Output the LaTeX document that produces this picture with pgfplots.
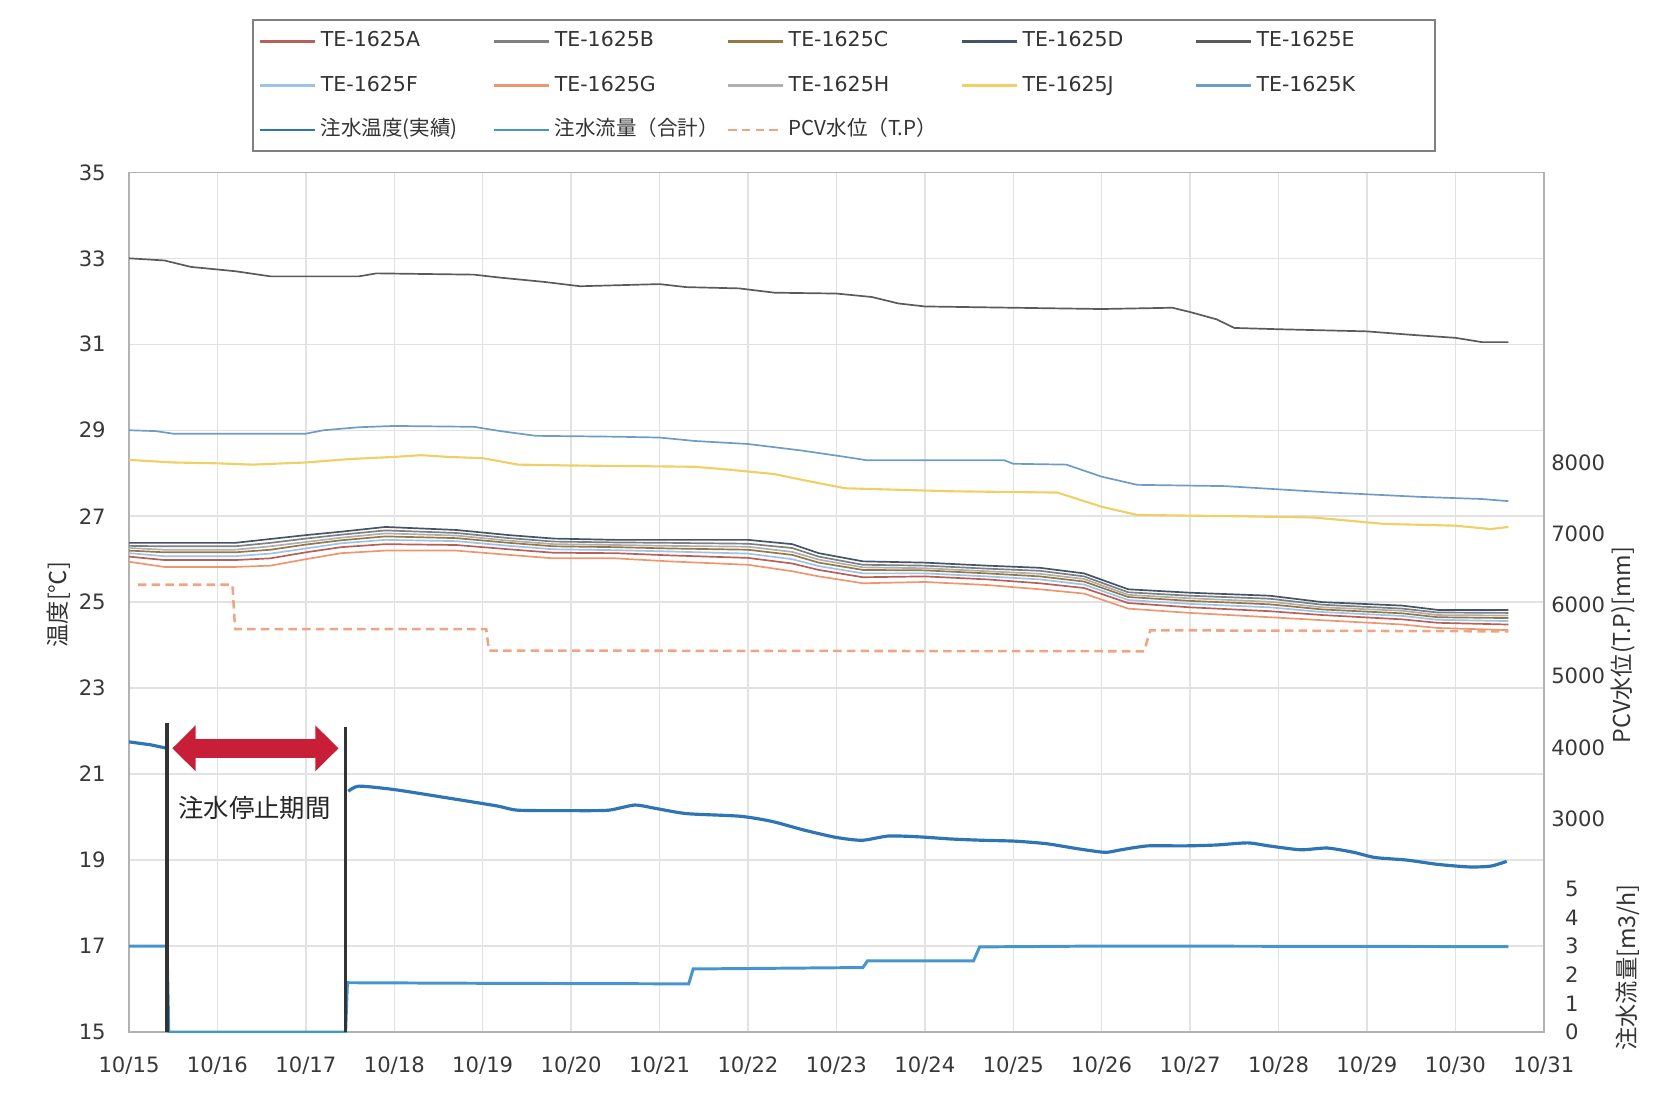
\documentclass[border=0pt]{standalone}
\usepackage{fontspec}
\setmainfont{DejaVu Sans}
\newfontfamily\jp{Noto Sans CJK JP}
\usepackage{pgfplots}
\pgfplotsset{compat=1.18}
\usepackage{pgfplotstable}
\usetikzlibrary{arrows.meta}

\definecolor{cA}{RGB}{185,95,85}
\definecolor{cB}{RGB}{128,128,128}
\definecolor{cC}{RGB}{150,120,70}
\definecolor{cD}{RGB}{68,84,106}
\definecolor{cE}{RGB}{90,90,90}
\definecolor{cF}{RGB}{157,195,230}
\definecolor{cG}{RGB}{240,150,110}
\definecolor{cH}{RGB}{175,175,175}
\definecolor{cJ}{RGB}{240,208,100}
\definecolor{cK}{RGB}{110,155,200}
\definecolor{cT}{RGB}{46,117,182}
\definecolor{cQ}{RGB}{70,150,205}
\definecolor{cP}{RGB}{240,165,130}
\definecolor{gridc}{RGB}{226,226,226}
\definecolor{arrowred}{RGB}{200,30,55}

\pgfplotstableread{
x A B C D F G H
0 26.06 26.31 26.20 26.38 26.14 25.94 26.26
0.4 25.98 26.30 26.16 26.38 26.07 25.82 26.22
1.2 25.98 26.30 26.16 26.38 26.07 25.82 26.22
1.6 26.02 26.38 26.22 26.47 26.13 25.85 26.30
2.0 26.16 26.48 26.34 26.56 26.25 26.00 26.40
2.4 26.28 26.57 26.44 26.64 26.37 26.14 26.50
2.9 26.35 26.67 26.53 26.75 26.45 26.20 26.60
3.7 26.33 26.61 26.49 26.68 26.42 26.20 26.55
4.3 26.23 26.49 26.38 26.56 26.31 26.10 26.43
4.8 26.15 26.41 26.30 26.48 26.23 26.02 26.35
5.5 26.14 26.39 26.28 26.45 26.21 26.02 26.33
6.1 26.09 26.38 26.25 26.45 26.18 25.95 26.31
7.0 26.03 26.36 26.22 26.45 26.13 25.87 26.29
7.5 25.90 26.26 26.10 26.35 26.00 25.72 26.17
7.8 25.75 26.06 25.92 26.14 25.84 25.60 25.99
8.3 25.58 25.87 25.75 25.95 25.67 25.44 25.81
9.0 25.60 25.85 25.74 25.92 25.67 25.47 25.79
9.7 25.53 25.78 25.67 25.85 25.60 25.40 25.72
10.3 25.44 25.73 25.60 25.80 25.53 25.30 25.66
10.8 25.33 25.60 25.48 25.67 25.41 25.20 25.54
11.3 24.98 25.23 25.12 25.30 25.05 24.85 25.17
12.0 24.88 25.15 25.03 25.22 24.96 24.75 25.09
12.9 24.79 25.08 24.95 25.15 24.88 24.65 25.01
13.5 24.70 24.94 24.83 25.00 24.77 24.58 24.88
14.4 24.60 24.85 24.74 24.92 24.68 24.48 24.80
14.8 24.52 24.76 24.65 24.82 24.59 24.40 24.70
15.6 24.48 24.75 24.63 24.82 24.56 24.35 24.69
}\cluster

\pgfplotstableread{
x E
0 33.00
0.4 32.95
0.7 32.80
1.2 32.70
1.6 32.58
2.6 32.58
2.8 32.65
3.9 32.62
4.2 32.55
4.7 32.45
5.1 32.35
6.0 32.40
6.3 32.33
6.9 32.30
7.3 32.20
8.0 32.18
8.4 32.10
8.7 31.95
9.0 31.88
10.0 31.85
11.0 31.82
11.8 31.85
12.0 31.75
12.3 31.58
12.5 31.38
13.0 31.35
14.0 31.30
14.5 31.22
15.0 31.15
15.3 31.05
15.6 31.05
}\tE

\pgfplotstableread{
x K
0 29.00
0.3 28.98
0.5 28.92
2.0 28.92
2.2 29.00
2.6 29.07
3.0 29.10
3.9 29.08
4.2 28.98
4.6 28.87
5.5 28.85
6.0 28.83
6.4 28.75
7.0 28.68
7.6 28.53
8.1 28.38
8.35 28.30
9.9 28.30
10.0 28.22
10.6 28.20
11.0 27.92
11.4 27.73
12.4 27.70
13.6 27.55
14.6 27.45
15.3 27.40
15.6 27.35
}\tK

\pgfplotstableread{
x J
0 28.31
0.5 28.25
1.0 28.23
1.4 28.20
2.0 28.25
2.5 28.33
3.0 28.38
3.3 28.42
3.6 28.38
4.0 28.35
4.4 28.20
5.0 28.18
6.4 28.15
6.8 28.08
7.3 27.98
7.6 27.85
8.1 27.65
9.3 27.58
10.5 27.55
11.0 27.22
11.4 27.03
12.5 27.00
13.4 26.97
14.2 26.82
15.0 26.78
15.4 26.70
15.6 26.75
}\tJ

\pgfplotstableread{
x T
2.48 20.60
2.60 20.72
3.00 20.64
3.56 20.46
4.16 20.26
4.40 20.16
5.00 20.15
5.42 20.16
5.72 20.28
5.96 20.20
6.31 20.08
6.91 20.02
7.27 19.90
7.63 19.70
7.99 19.53
8.29 19.46
8.59 19.56
8.94 19.54
9.30 19.49
9.66 19.46
10.02 19.44
10.38 19.38
10.74 19.26
11.04 19.18
11.22 19.24
11.52 19.33
11.93 19.33
12.29 19.35
12.65 19.40
12.89 19.33
13.25 19.24
13.55 19.28
13.85 19.18
14.09 19.06
14.45 19.00
14.80 18.90
15.16 18.84
15.40 18.86
15.58 18.97
}\tempB

\pgfplotsset{
  lw/.style={line width=0.8pt},
  mytick/.style={font=\fontsize{10}{12}\selectfont, text=black!78},
}

\begin{document}
\begin{tikzpicture}
% ---------- main temperature axis ----------
\begin{axis}[
  at={(0,0)}, anchor=south west,
  scale only axis, width=669pt, height=406.5pt,
  xmin=0, xmax=16, ymin=15, ymax=35,
  xtick={0,...,16},
  xticklabels={10/15,10/16,10/17,10/18,10/19,10/20,10/21,10/22,10/23,10/24,10/25,10/26,10/27,10/28,10/29,10/30,10/31},
  ytick={15,17,...,35},
  /pgf/number format/assume math mode=true,
  major tick length=0pt,
  grid=major, grid style={color=gridc, line width=0.7pt},
  axis line style={color=black!30, line width=0.7pt},
  xticklabel style={mytick, yshift=-8pt},
  yticklabel style={mytick, xshift=-7.5pt},
  legend columns=5,
  legend cell align=left,
  legend style={at={(0.0867,1.1784)}, anchor=north west, draw=black!50, line width=0.9pt,
    font=\fontsize{9.7}{11}\selectfont, text=black!80, inner xsep=3pt, inner ysep=3.3pt,
    row sep=7.5pt, fill=white, nodes={text height=7.5pt, text depth=2pt}},
  legend image code/.code={\draw[#1, line width=1.3pt] (0pt,0pt) -- (26pt,0pt);},
]
\addplot[cA, lw] table[x=x, y=A] {\cluster};
\addlegendentry{\makebox[79.3pt][l]{TE-1625A}}
\addplot[cB, lw] table[x=x, y=B] {\cluster};
\addlegendentry{\makebox[79.3pt][l]{TE-1625B}}
\addplot[cC, lw] table[x=x, y=C] {\cluster};
\addlegendentry{\makebox[79.3pt][l]{TE-1625C}}
\addplot[cD, lw] table[x=x, y=D] {\cluster};
\addlegendentry{\makebox[79.3pt][l]{TE-1625D}}
\addplot[cE, lw] table[x=x, y=E] {\tE};
\addlegendentry{\makebox[79.3pt][l]{TE-1625E}}
\addplot[cF, lw] table[x=x, y=F] {\cluster};
\addlegendentry{\makebox[79.3pt][l]{TE-1625F}}
\addplot[cG, lw] table[x=x, y=G] {\cluster};
\addlegendentry{\makebox[79.3pt][l]{TE-1625G}}
\addplot[cH, lw] table[x=x, y=H] {\cluster};
\addlegendentry{\makebox[79.3pt][l]{TE-1625H}}
\addplot[cJ, line width=1pt] table[x=x, y=J] {\tJ};
\addlegendentry{\makebox[79.3pt][l]{TE-1625J}}
\addplot[cK, lw] table[x=x, y=K] {\tK};
\addlegendentry{\makebox[79.3pt][l]{TE-1625K}}
\addplot[cT, line width=1.5pt] coordinates {(0,21.75) (0.25,21.68) (0.43,21.60)};
\addlegendentry{\makebox[79.3pt][l]{\jp 注水温度(実績)}}
\addplot[cT, line width=1.5pt, smooth, tension=0.4, forget plot] table[x=x, y=T] {\tempB};
\addlegendimage{cQ, line width=1.3pt}
\addlegendentry{\makebox[79.3pt][l]{\jp 注水流量（合計）}}
\addlegendimage{cP, dashed, dash pattern=on 4pt off 2.5pt}
\addlegendentry{\makebox[79.3pt][l]{\jp PCV水位（T.P）}}
\end{axis}

% ---------- PCV water level axis (right) ----------
\begin{axis}[
  at={(0,0)}, anchor=south west,
  scale only axis, width=669pt, height=406.5pt,
  xmin=0, xmax=16, ymin=0, ymax=12080,
  axis x line=none, axis y line*=right,
  ytick={3000,4000,...,8000},
  /pgf/number format/assume math mode=true,
  scaled y ticks=false,
  yticklabel style={mytick, /pgf/number format/1000 sep={}},
  major tick length=0pt,
  axis line style={draw=none},
]
\addplot[cP, line width=1.2pt, dash pattern=on 4pt off 2.5pt] coordinates {
  (0.1,6285) (1.17,6285) (1.2,5660) (4.04,5660) (4.07,5360) (11.48,5350) (11.55,5645) (15.6,5630)};
\end{axis}

% ---------- injection flow axis (right, bottom) ----------
\begin{axis}[
  at={(0,0)}, anchor=south west,
  scale only axis, width=669pt, height=406.5pt,
  xmin=0, xmax=16, ymin=0, ymax=30,
  axis x line=none, axis y line*=right,
  ytick={0,1,...,5},
  /pgf/number format/assume math mode=true,
  yticklabel style={mytick, xshift=6.5pt},
  major tick length=0pt,
  axis line style={draw=none},
]
\addplot[cQ, line width=1.4pt] coordinates {
  (0,3.0) (0.43,3.0) (0.45,0) (2.45,0) (2.47,1.72) (4.0,1.70) (6.33,1.68) (6.38,2.20)
  (8.3,2.25) (8.35,2.48) (9.55,2.48) (9.62,2.97) (11.0,3.0) (15.6,2.98)};
\end{axis}

% ---------- annotations and axis titles ----------
\begin{axis}[
  at={(0,0)}, anchor=south west,
  scale only axis, width=669pt, height=406.5pt,
  xmin=0, xmax=16, ymin=15, ymax=35,
  hide axis, clip=false,
]
\draw[black!80, line width=1.5pt] (axis cs:0.43,15) -- (axis cs:0.43,22.2);
\draw[black!80, line width=1.5pt] (axis cs:2.45,15) -- (axis cs:2.45,22.1);
\draw[arrowred, line width=9pt, {Triangle[width=21pt,length=11pt]}-{Triangle[width=21pt,length=11pt]}]
  (axis cs:0.49,21.6) -- (axis cs:2.37,21.6);
\node[font=\jp\fontsize{12}{14}\selectfont, text=black!85] at (axis cs:1.42,20.22) {注水停止期間};
\node[rotate=90, font=\jp\fontsize{11}{13}\selectfont, text=black!80] at (rel axis cs:-0.05,0.497) {温度[℃]};
\node[rotate=90, font=\jp\fontsize{11}{13}\selectfont, text=black!80] at (rel axis cs:1.056,0.45) {PCV水位(T.P)[mm]};
\node[rotate=90, font=\jp\fontsize{11}{13}\selectfont, text=black!80] at (rel axis cs:1.059,0.075) {注水流量[m3/h]};
\end{axis}

\pgfresetboundingbox
\path[use as bounding box] (-61pt,-30pt) rectangle (723pt,488pt);
\end{tikzpicture}
\end{document}
